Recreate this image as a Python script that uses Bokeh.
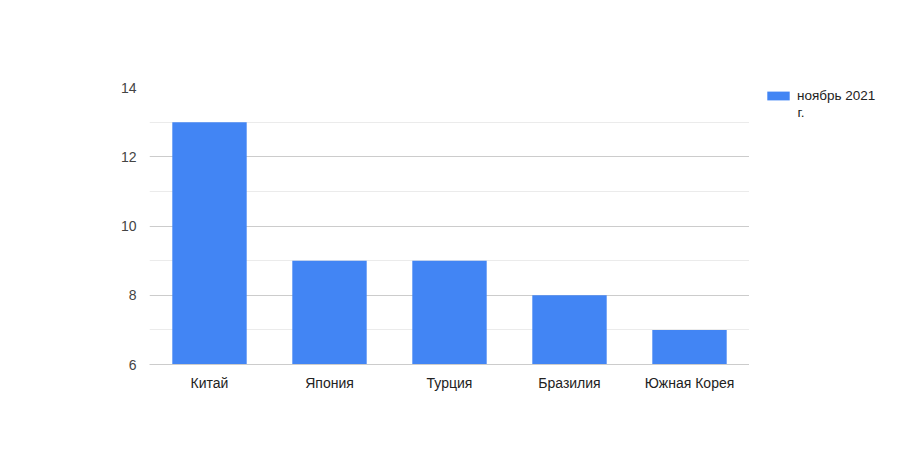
from bokeh.plotting import figure
from bokeh.layouts import row
from bokeh.models import Legend, LegendItem, FixedTicker, ColumnDataSource, Label
from bokeh.embed import file_html
from bokeh.resources import INLINE

categories = ["Китай", "Япония", "Турция", "Бразилия", "Южная Корея"]
values = [13, 9, 9, 8, 7]
series_name_line1 = "ноябрь 2021"
series_name_line2 = "г."
y_ticks = [6, 8, 10, 12, 14]
y_minor = [7, 9, 11, 13]
y_min, y_max = 6, 14
bar_color = "#4285f4"
font = "Liberation Sans"

src = ColumnDataSource(dict(cat=categories, val=values))

p = figure(x_range=categories, y_range=(y_min, y_max), width=749, height=442,
           frame_width=600, frame_height=277,
           output_backend="svg", toolbar_location=None,
           min_border_left=149, min_border_right=0, min_border_top=87, min_border_bottom=78)
p.outline_line_color = None
p.background_fill_color = "white"
p.border_fill_color = "white"

r = p.vbar(x="cat", top="val", bottom=y_min, width=0.62, source=src,
           fill_color=bar_color, line_color=None)

p.yaxis.ticker = FixedTicker(ticks=y_ticks, minor_ticks=y_minor)
p.yaxis.axis_line_color = None
p.yaxis.major_tick_line_color = None
p.yaxis.minor_tick_line_color = None
p.yaxis.major_tick_out = 0
p.yaxis.minor_tick_out = 0
p.yaxis.major_label_text_font = font
p.yaxis.major_label_text_font_size = "14px"
p.yaxis.major_label_text_color = "#444444"
p.yaxis.major_label_standoff = 13

p.xaxis.axis_line_color = "#cccccc"
p.xaxis.major_tick_line_color = None
p.xaxis.minor_tick_line_color = None
p.xaxis.major_tick_out = 0
p.xaxis.minor_tick_out = 0
p.xaxis.major_label_text_font = font
p.xaxis.major_label_text_font_size = "14px"
p.xaxis.major_label_text_color = "#222222"
p.xaxis.major_label_standoff = 10

p.xgrid.grid_line_color = None
p.ygrid.grid_line_color = "#cccccc"
p.ygrid.minor_grid_line_color = "#ebebeb"

# legend panel (its frame is aligned with the main frame by the row layout)
lg = figure(width=143, height=442, x_range=(0, 1), y_range=(0, 1),
            output_backend="svg", toolbar_location=None,
            x_axis_location=None, y_axis_location=None,
            min_border_left=0, min_border_right=0, min_border_top=0, min_border_bottom=0)
lg.outline_line_color = None
lg.grid.visible = False
lg.border_fill_color = "white"
# zero-size proxy renderer, only used to draw the legend swatch
swatch = lg.vbar(x=[0], top=[0], bottom=[0], width=0, fill_color=bar_color, line_color=None)

legend = Legend(items=[LegendItem(label=series_name_line1, renderers=[swatch])],
                location=(15, 261), padding=0, margin=0, spacing=0,
                glyph_width=28, glyph_height=11, label_standoff=5,
                label_text_font=font, label_text_font_size="13.5px",
                label_text_color="#222222", border_line_color=None,
                background_fill_alpha=0)
lg.add_layout(legend)
lg.add_layout(Label(x=48, y=252, x_units="screen", y_units="screen",
                    text=series_name_line2, text_baseline="alphabetic",
                    text_font=font, text_font_size="13.5px",
                    text_color="#222222"))

layout = row(p, lg, spacing=0)
open("out.html", "w").write(file_html(layout, INLINE))
